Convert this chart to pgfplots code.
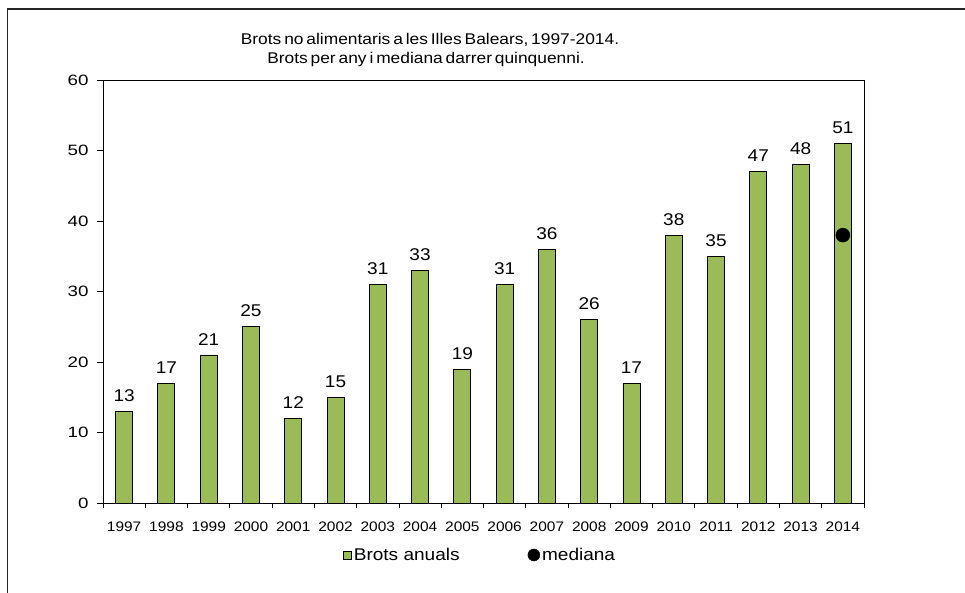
\documentclass[border=0pt]{standalone}
\usepackage{fontspec}
\setmainfont{Liberation Sans}[FakeStretch=1.12]
\newfontfamily\titlefont{Liberation Sans}[FakeStretch=1.12, WordSpace=0.6]
\newfontfamily\ylabfont{Liberation Sans}[FakeStretch=1.25]
\usepackage{pgfplots}
\pgfplotsset{compat=1.18}
\definecolor{barcol}{HTML}{9BBB59}
\begin{document}
\begin{tikzpicture}[x=1pt,y=1pt]
\useasboundingbox (0,0) rectangle (965,592);
\draw[line width=1.8pt, black!85] (7.5,-10) -- (7.5,583) -- (980,583);
\node[anchor=base, inner sep=0pt, font=\titlefont\fontsize{15.5}{18}\selectfont] at (430,547) {Brots no alimentaris a les Illes Balears, 1997-2014.};
\node[anchor=base, inner sep=0pt, font=\titlefont\fontsize{15.5}{18}\selectfont] at (426,528) {Brots per any i mediana darrer quinquenni.};
\begin{axis}[
  at={(103pt,89pt)}, anchor=south west,
  scale only axis, width=761pt, height=423pt,
  xmin=-0.5, xmax=17.5, ymin=0, ymax=60,
  xtick={0,...,17},
  xticklabels={1997,1998,1999,2000,2001,2002,2003,2004,2005,2006,2007,2008,2009,2010,2011,2012,2013,2014},
  minor xtick={-0.5,0.5,...,17.5},
  ytick={0,10,...,60},
  xtick pos=bottom, ytick pos=left,
  tick align=outside,
  major tick length=6pt, minor tick length=5pt,
  every major x tick/.append style={draw=none},
  tick style={black, line width=0.8pt},
  axis line style={black, line width=1pt},
  /pgf/number format/assume math mode=true,
  yticklabel style={font=\ylabfont\fontsize{15}{17}\selectfont, xshift=-5pt},
  xticklabel style={font=\fontsize{13.8}{16}\selectfont, yshift=-9pt},
  legend columns=2,
  legend style={at={(0.3154,-0.1229)}, anchor=west, draw=none, fill=none,
    inner sep=0pt, font=\fontsize{17}{19}\selectfont,
    /tikz/every even column/.append style={column sep=66pt}},
]
\addplot[ybar, bar width=17pt, fill=barcol, draw=black, line width=0.9pt,
  nodes near coords,
  nodes near coords style={font=\fontsize{17}{20}\selectfont, yshift=6pt, black},
  legend image code/.code={\draw[fill=barcol, draw=black, line width=0.6pt] (0pt,-4pt) rectangle (8pt,4pt);}]
  coordinates {(0,13) (1,17) (2,21) (3,25) (4,12) (5,15) (6,31) (7,33) (8,19) (9,31) (10,36) (11,26) (12,17) (13,38) (14,35) (15,47) (16,48) (17,51)};
\addlegendentry{Brots anuals}
\addplot[only marks, mark=*, mark size=7pt, black,
  legend image code/.code={\fill[black] (6pt,0pt) circle (6pt);}]
  coordinates {(17,38)};
\addlegendentry{mediana}
\draw[black, line width=1.8pt] (rel axis cs:0,0) -- (rel axis cs:0,1);
\end{axis}
\end{tikzpicture}
\end{document}
